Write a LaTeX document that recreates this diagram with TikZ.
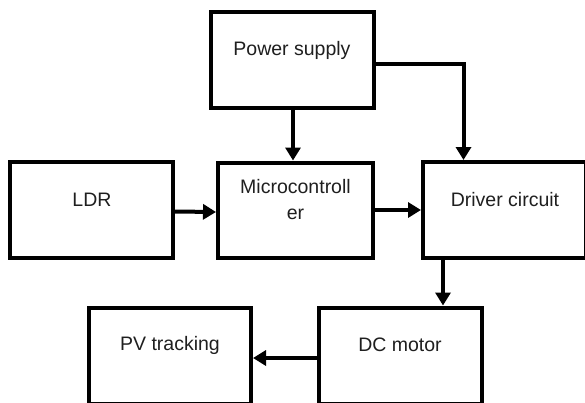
\documentclass[tikz,border=0pt]{standalone}
\usepackage{fontspec}
\setmainfont{Liberation Sans}
\usetikzlibrary{arrows.meta}
\begin{document}
\begin{tikzpicture}[x=1pt,y=-1pt,
  blk/.style={draw=black,line width=4pt,minimum width=163pt,minimum height=96pt,inner sep=0pt},
  lbl/.style={font=\fontsize{19.5}{26}\selectfont,text=black!88,align=center,inner sep=0pt},
  arr/.style={line width=4pt,-{Triangle[length=13pt,width=15pt]}}]
\useasboundingbox (0,0) rectangle (585,402);
\clip (0,0) rectangle (585,402);
\fill[white] (0,0) rectangle (585,402);
\node[blk] (ps) at (292,59.5) {};
\node[blk] (ldr) at (91.5,209.5) {};
\node[blk,minimum width=155pt,minimum height=95pt] (mc) at (295.5,210) {};
\node[blk] (dr) at (504.5,210) {};
\node[blk] (dc) at (400.5,355.5) {};
\node[blk,minimum width=162pt] (pv) at (170,355.5) {};
\node[lbl] (tps) at (292,50) {Power supply};
\node[lbl] (tldr) at (92,200) {LDR};
\node[lbl] (tmc) at (295.5,200) {Microcontroll\\er};
\node[lbl] (tdr) at (505,200) {Driver circuit};
\node[lbl] (tdc) at (400,345) {DC motor};
\node[lbl] (tpv) at (170,345) {PV tracking};
\draw[arr] (ps.south -| 293,0) -- (293,0 |- mc.north);
\coordinate (pse) at ([yshift=-4.5pt]ps.east);
\draw[arr] (pse) -| (463.5,0 |- dr.north);
\draw[arr] ([yshift=-2pt]ldr.east) -- ([yshift=-2pt]mc.west);
\draw[arr] (mc.east) -- (dr.west);
\draw[arr] (443,0 |- dr.south) -- (443,0 |- dc.north);
\draw[arr] ([yshift=-2.5pt]dc.west) -- ([yshift=-2.5pt]pv.east);
\end{tikzpicture}
\end{document}
